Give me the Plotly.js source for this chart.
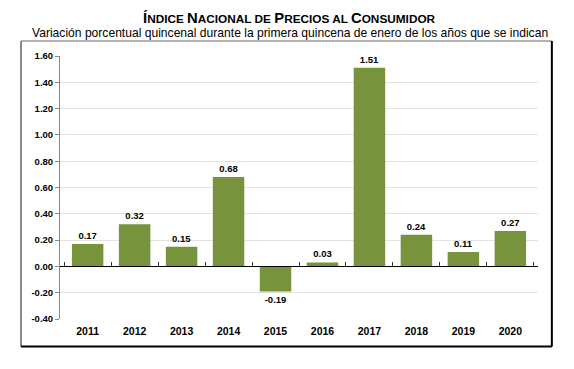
<!DOCTYPE html>
<html>
<head>
<meta charset="utf-8">
<script src="https://cdn.plot.ly/plotly-3.0.1.min.js"></script>
<style>html,body{margin:0;padding:0;background:#fff;}</style>
</head>
<body>
<div id="chart" style="width:574px;height:369px;"></div>
<script>
const years = ['2011','2012','2013','2014','2015','2016','2017','2018','2019','2020'];
const values = [0.17, 0.32, 0.15, 0.68, -0.19, 0.03, 1.51, 0.24, 0.11, 0.27];
const yTicks = [-0.4,-0.2,0,0.2,0.4,0.6,0.8,1.0,1.2,1.4,1.6];
const titleText = '<b><span style="font-size:14.8px">Í</span>NDICE <span style="font-size:14.8px">N</span>ACIONAL DE <span style="font-size:14.8px">P</span>RECIOS AL <span style="font-size:14.8px">C</span>ONSUMIDOR</b>';
const subtitleText = 'Variación porcentual quincenal durante la primera quincena de enero de los años que se indican';

const yMin = -0.4, yMax = 1.6;
const dom = [0, 1];
const zeroPos = dom[0] + (0 - yMin) / (yMax - yMin) * (dom[1] - dom[0]);

const trace = {
  type: 'bar',
  x: years,
  y: values,
  marker: {color: '#77933C', line: {width: 0}},
  text: values.map(v => v.toFixed(2)),
  textposition: 'outside',
  textfont: {family: 'Liberation Sans, Arial, sans-serif', size: 9.5, color: '#000', weight: 'bold'},
  cliponaxis: false,
  hoverinfo: 'none'
};

const trace2 = {
  type: 'scatter', x: years, y: values.map(() => null), xaxis: 'x2', yaxis: 'y',
  showlegend: false, hoverinfo: 'none'
};

const layout = {
  width: 574, height: 369,
  margin: {l: 60, r: 36, t: 56, b: 50},
  paper_bgcolor: '#fff', plot_bgcolor: '#fff',
  showlegend: false,
  bargap: 0.33,
  font: {family: 'Liberation Sans, Arial, sans-serif', color: '#000'},
  xaxis: {
    type: 'category', showline: false, ticks: '', showgrid: false, zeroline: false,
    tickfont: {size: 10.5, weight: 'bold'}, ticklabelstandoff: 4
  },
  xaxis2: {
    type: 'category', overlaying: 'x', anchor: 'free', position: zeroPos,
    showline: true, linecolor: '#000', linewidth: 1,
    ticks: 'inside', ticklen: 4, tickcolor: '#333', tickwidth: 1, tickson: 'boundaries',
    showticklabels: false, showgrid: false, zeroline: false, matches: 'x'
  },
  yaxis: {
    range: [yMin, yMax], tickvals: yTicks, ticktext: yTicks.map(v => v.toFixed(2)),
    showgrid: true, gridcolor: '#e3e3e3', gridwidth: 1,
    zeroline: false, showline: true, linecolor: '#888', linewidth: 1,
    ticks: 'outside', ticklen: 4, tickcolor: '#888',
    tickfont: {size: 9.5, weight: 'bold'}, domain: dom
  },
  annotations: [
    {text: titleText, xref: 'paper', yref: 'paper', x: 0.481, y: 1.144, yanchor: 'middle',
     xanchor: 'center', showarrow: false, font: {size: 11.8, color: '#000'}},
    {text: subtitleText, xref: 'paper', yref: 'paper', x: 0.482, y: 1.087, yanchor: 'middle',
     xanchor: 'center', showarrow: false, font: {size: 12.1, color: '#000'}}
  ],
  shapes: [
    {type: 'line', xref: 'paper', yref: 'paper', x0: -0.0816, x1: -0.0816, y0: -0.105, y1: 1.057, line: {color: '#666', width: 1.5}},
    {type: 'line', xref: 'paper', yref: 'paper', x0: -0.0816, x1: 1.029, y0: 1.057, y1: 1.057, line: {color: '#666', width: 1}},
    {type: 'line', xref: 'paper', yref: 'paper', x0: 1.029, x1: 1.029, y0: -0.105, y1: 1.057, line: {color: '#000', width: 2}},
    {type: 'line', xref: 'paper', yref: 'paper', x0: -0.0816, x1: 1.029, y0: -0.105, y1: -0.105, line: {color: '#000', width: 2}}
  ]
};

Plotly.newPlot('chart', [trace, trace2], layout, {displayModeBar: false, staticPlot: true});
</script>
</body>
</html>
